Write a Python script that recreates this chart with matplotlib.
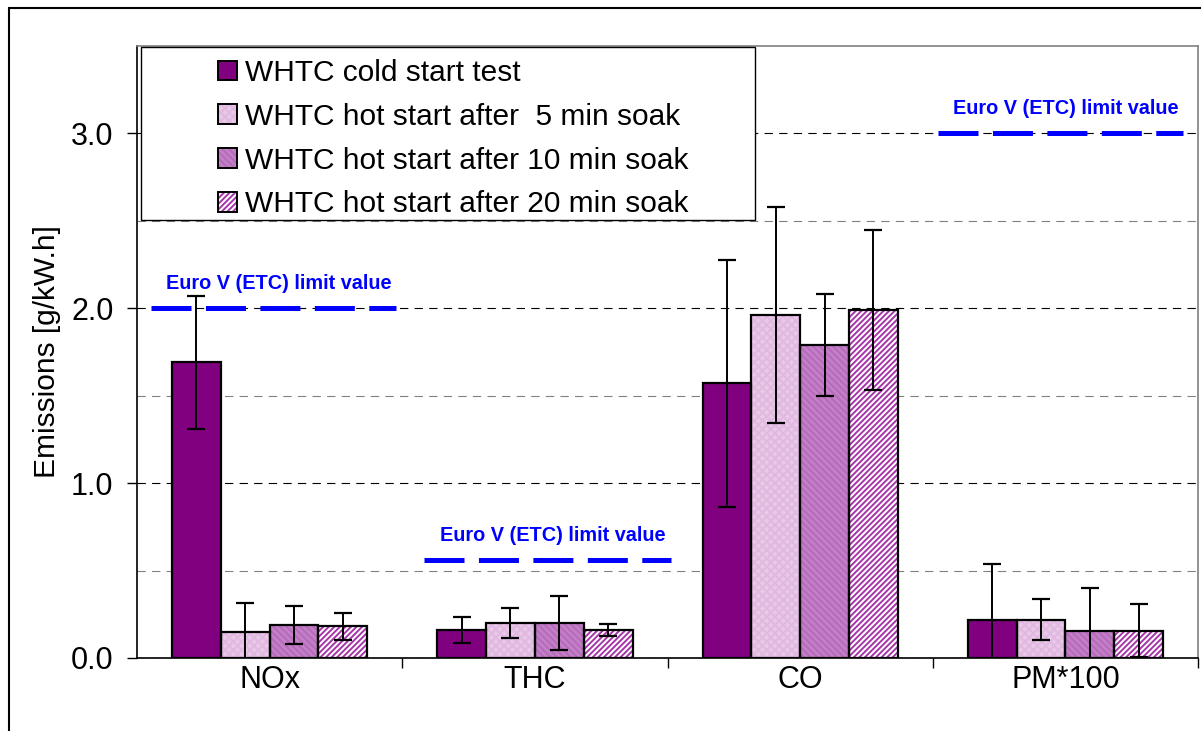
import numpy as np
import matplotlib
matplotlib.use("Agg")
import matplotlib.pyplot as plt
from matplotlib.patches import Patch, Rectangle
from matplotlib.ticker import FixedLocator

plt.rcParams['font.family'] = ['Liberation Sans', 'DejaVu Sans']
plt.rcParams['lines.scale_dashes'] = False
plt.rcParams['hatch.linewidth'] = 1.4

# ---- Data ----
categories = ['NOx', 'THC', 'CO', 'PM*100']
series_labels = ['WHTC cold start test',
                 'WHTC hot start after  5 min soak',
                 'WHTC hot start after 10 min soak',
                 'WHTC hot start after 20 min soak']

cold = [1.69, 0.16, 1.57, 0.22]
hot5 = [0.15, 0.20, 1.96, 0.22]
hot10 = [0.19, 0.20, 1.79, 0.155]
hot20 = [0.18, 0.16, 1.99, 0.155]

cold_err = [0.38, 0.073, 0.705, 0.318]
hot5_err = [0.165, 0.083, 0.618, 0.116]
hot10_err = [0.108, 0.157, 0.29, 0.243]
hot20_err = [0.08, 0.034, 0.455, 0.152]

limit_cats = ['NOx', 'THC', 'PM*100']
limit_values = [2.0, 0.56, 3.0]
limit_label = 'Euro V (ETC) limit value'

# ---- Styles ----
# (face colour, hatch pattern, hatch colour)
styles = [
    ('#800080', None, '#800080'),
    ('#E9C9E9', 'xxxx', '#E0B8E0'),
    ('#C47FC8', '\\\\\\\\\\', '#B46CB8'),
    ('#FFFFFF', '//////', '#A535A8'),
]
# where each limit line starts/ends relative to the category centre
limit_spans = [(-0.448, 0.475), (-0.418, 0.512), (-0.482, 0.444)]

values = [cold, hot5, hot10, hot20]
errors = [cold_err, hot5_err, hot10_err, hot20_err]

fig = plt.figure(figsize=(12.01, 7.31), dpi=100)
ax = fig.add_axes([0.1141, 0.0999, 0.8834, 0.8372])

x = np.arange(len(categories))
w = 0.184
handles = []
for i, (vals, errs, (fc, hatch, hc)) in enumerate(zip(values, errors, styles)):
    pos = x + (i - 1.5) * w
    ax.bar(pos, vals, w, color=fc, hatch=hatch, edgecolor=hc, linewidth=0, zorder=2)
    ax.bar(pos, vals, w, fill=False, edgecolor='black', linewidth=1.6, zorder=3)
    ax.errorbar(pos, vals, yerr=errs, fmt='none', ecolor='black', elinewidth=1.4,
                capsize=6.5, capthick=1.6, zorder=4)
    handles.append((Patch(facecolor=fc, hatch=hatch, edgecolor=hc, linewidth=0),
                    Patch(fill=False, edgecolor='black', linewidth=1.4)))

# ---- Euro V limit lines ----
for cat, val, (a, b) in zip(limit_cats, limit_values, limit_spans):
    c = categories.index(cat)
    ax.plot([c + a, c + b], [val, val], color='#0000FF', linewidth=3.6,
            dashes=(28.8, 10.4), solid_capstyle='butt', dash_capstyle='butt', zorder=5)
    ax.annotate(limit_label, xy=(c + (a + b) / 2 + 0.02, val), xytext=(0, 18),
                textcoords='offset points', ha='center', va='center',
                color='#0000FF', fontsize=14.3, fontweight='bold', zorder=6)

# ---- Axes ----
ax.set_xlim(-0.5, 3.5)
ax.set_ylim(0, 3.5)
ax.yaxis.set_major_locator(FixedLocator([0, 1, 2, 3]))
ax.yaxis.set_minor_locator(FixedLocator([0.5, 1.5, 2.5]))
ax.set_yticklabels(['0.0', '1.0', '2.0', '3.0'])
ax.tick_params(axis='y', which='major', direction='out', length=7, width=1,
               pad=10, labelsize=22)
ax.tick_params(axis='y', which='minor', length=0)

ax.xaxis.set_major_locator(FixedLocator([0.5, 1.5, 2.5, 3.5]))
ax.xaxis.set_major_formatter(plt.NullFormatter())
ax.xaxis.set_minor_locator(FixedLocator(x))
ax.set_xticklabels(categories, minor=True)
ax.tick_params(axis='x', which='major', direction='out', length=7, width=1)
ax.tick_params(axis='x', which='minor', length=0, pad=5, labelsize=22)

ax.set_axisbelow(True)
ax.grid(axis='y', which='major', color='black', linestyle=(0, (6, 4.5)), linewidth=0.8)
ax.grid(axis='y', which='minor', color='#808080', linestyle=(0, (6, 4.5)), linewidth=0.8)

for side in ['top', 'right']:
    ax.spines[side].set_color('#808080')
    ax.spines[side].set_linewidth(1.2)
for side in ['left', 'bottom']:
    ax.spines[side].set_color('black')
    ax.spines[side].set_linewidth(1.2)

ax.set_ylabel('Emissions [g/kW.h]', fontsize=21.5)
ax.yaxis.set_label_coords(-0.072, 0.5)

# ---- Legend: white box plus frameless legend inside ----
box = Rectangle((0.0038, 0.7157), 0.5788, 0.2827, transform=ax.transAxes,
                facecolor='white', edgecolor='black', linewidth=1.0, zorder=7)
ax.add_patch(box)
leg = ax.legend(handles, series_labels, loc='upper left', bbox_to_anchor=(0.0763, 0.9788),
                frameon=False, fontsize=21.5, borderpad=0, borderaxespad=0,
                handlelength=0.635, handleheight=0.635, handletextpad=0.27,
                labelspacing=0.53)
leg.set_zorder(8)

# outer chart border
fig.patches.append(Rectangle((0.0079, -0.1), 1.2, 1.0897, transform=fig.transFigure,
                             fill=False, edgecolor='black', linewidth=1.5))

fig.savefig('out.png', dpi=100)
